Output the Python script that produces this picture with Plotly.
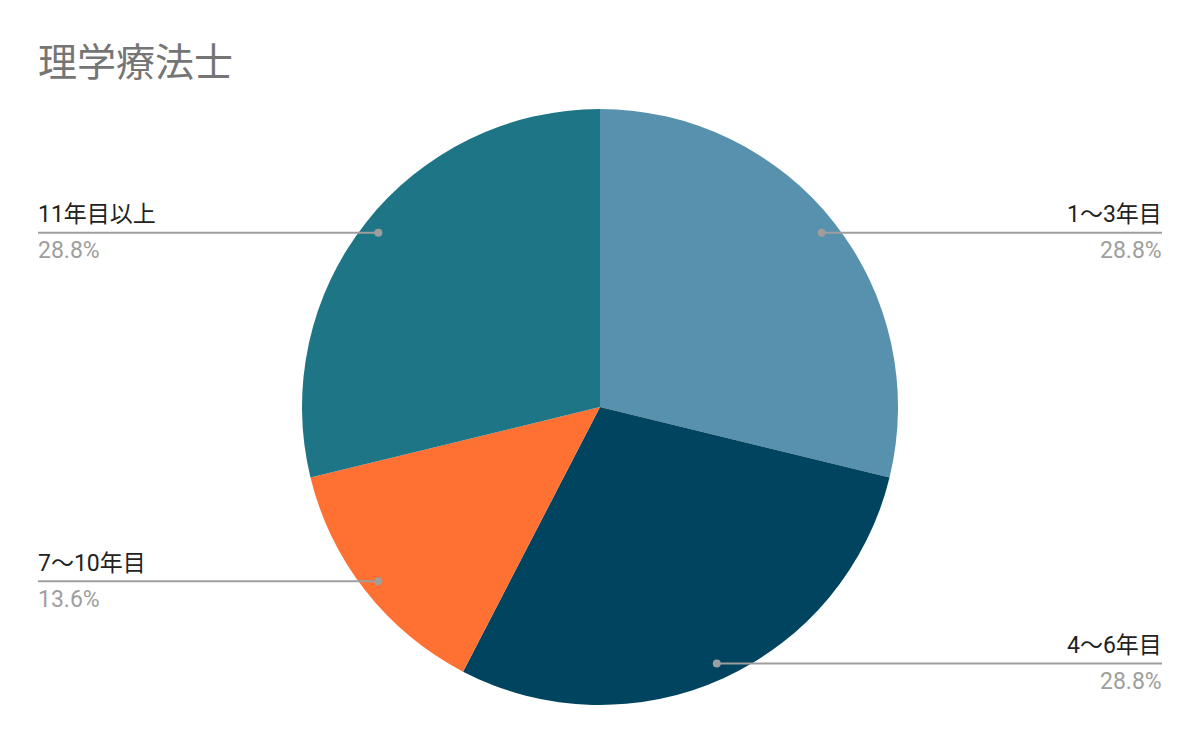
import math
import plotly.graph_objects as go

title = "理学療法士"
categories = ["1〜3年目", "4〜6年目", "7〜10年目", "11年目以上"]
counts = [36, 36, 17, 36]
colors = ["#5791AD", "#01445F", "#FF7033", "#1D7586"]

# The page body has an 8px margin, so the figure is sized to fit the window.
W, H = 1192, 734
top, bottom, right_m = 101, 37, 8
plot_w = W - right_m
plot_h = H - top - bottom
R_px = plot_h / 2
cx, cy = plot_w / 2, top + plot_h / 2

fig = go.Figure(go.Pie(
    labels=categories,
    values=counts,
    sort=False,
    direction="clockwise",
    rotation=0,
    marker=dict(colors=colors, line=dict(width=0)),
    textinfo="none",
    hoverinfo="label+percent",
    showlegend=False,
))

total = sum(counts)
shapes = []
annotations = []
cum = 0
line_color = "#9E9E9E"
fam = "Roboto, Arial, 'Noto Sans CJK JP', sans-serif"
label_font = dict(family=fam, size=23, color="#222222")
pct_font = dict(family=fam, size=23, color="#9E9E9E")
for cat, v in zip(categories, counts):
    mid = (cum + v / 2) / total * 2 * math.pi
    cum += v
    r = 0.946 * R_px
    px = cx + r * math.sin(mid)
    py = cy - r * math.cos(mid)
    xp = px / plot_w
    yp = (H - bottom - py) / plot_h
    right = math.sin(mid) > 0
    xend = (1154 if right else 30) / plot_w
    shapes.append(dict(type="line", xref="paper", yref="paper", x0=xp, x1=xend, y0=yp, y1=yp,
                       line=dict(color=line_color, width=2)))
    shapes.append(dict(type="circle", xref="paper", yref="paper",
                       x0=xp - 4 / plot_w, x1=xp + 4 / plot_w, y0=yp - 4 / plot_h, y1=yp + 4 / plot_h,
                       fillcolor=line_color, line=dict(width=0)))
    anchor = "right" if right else "left"
    xs = 2 if right else -2
    annotations.append(dict(x=xend, y=yp, xref="paper", yref="paper", text=cat, showarrow=False,
                            xanchor=anchor, yanchor="middle", yshift=18, xshift=xs, font=label_font))
    annotations.append(dict(x=xend, y=yp, xref="paper", yref="paper",
                            text=f"{v / total * 100:.1f}%", showarrow=False,
                            xanchor=anchor, yanchor="middle", yshift=-18, xshift=xs, font=pct_font))

fig.update_layout(
    width=W, height=H,
    margin=dict(l=0, r=right_m, t=top, b=bottom),
    paper_bgcolor="white",
    plot_bgcolor="white",
    title=dict(text=title, x=30 / W, xanchor="left", y=1 - 54 / H, yanchor="middle",
               font=dict(family="'Noto Sans CJK JP', sans-serif", size=39, color="#757575")),
    shapes=shapes,
    annotations=annotations,
)

fig.write_html("out.html")
